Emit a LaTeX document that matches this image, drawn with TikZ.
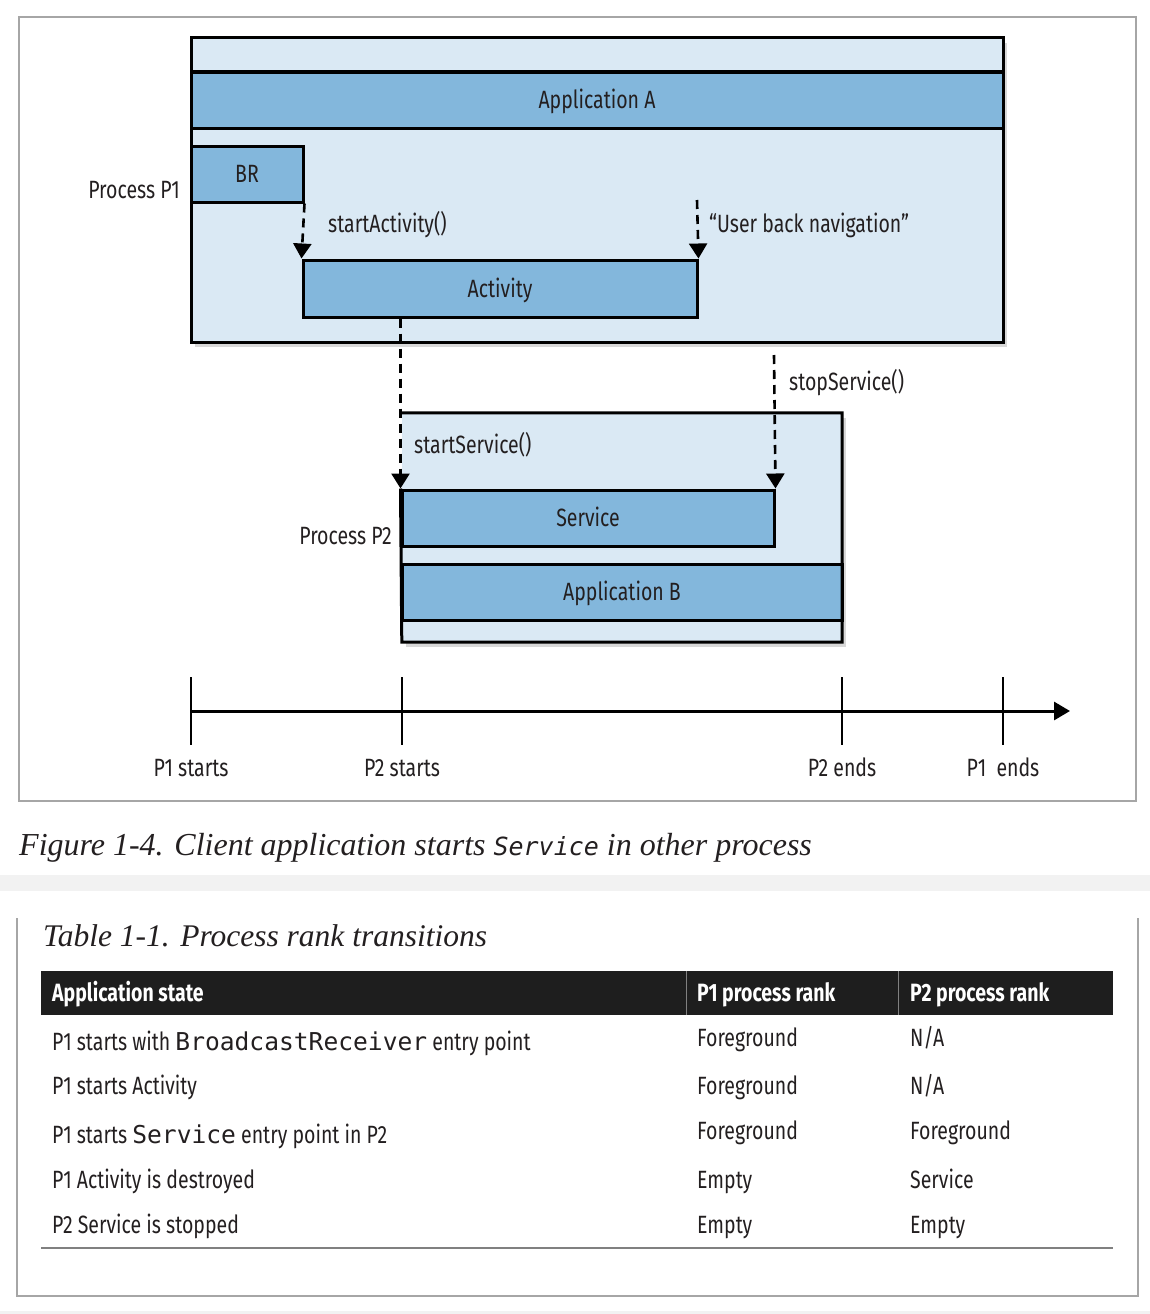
\documentclass[tikz,border=0pt]{standalone}
\usepackage{fontspec}
\setmainfont[FakeStretch=0.78]{Fira Sans}
\newfontfamily\capfont{Liberation Serif}
\newfontfamily\codefont{DejaVu Sans Mono}
\usetikzlibrary{arrows.meta,shadows}
\definecolor{ink}{HTML}{231F20}
\definecolor{lightblue}{HTML}{DAE9F4}
\definecolor{midblue}{HTML}{83B7DC}
\definecolor{framegray}{HTML}{A6A6A6}
\definecolor{bandgray}{HTML}{F2F2F2}
\definecolor{hdr}{HTML}{1E1E1E}
\newcommand\mycode[1]{{\codefont\fontsize{24.6}{28}\selectfont #1}}
\newcommand\capcode[1]{{\codefont\fontsize{25}{28}\selectfont #1}}
\begin{document}
\begin{tikzpicture}[x=1pt,y=-1pt,
  txt/.style={font=\fontsize{25}{30}\selectfont, text=ink, inner sep=0pt},
  captxt/.style={font=\capfont\itshape\fontsize{32}{36}\selectfont, text=ink, inner sep=0pt},
  pbox/.style={fill=lightblue, inner sep=0pt, drop shadow={shadow xshift=4pt, shadow yshift=-5pt, opacity=0.3}},
  boxline/.style={draw=black, line width=3pt, line join=miter},
  band/.style={fill=midblue, draw=black, line width=3pt, inner sep=0pt, txt, text height=17.5pt, text depth=0pt},
  dline/.style={line width=2.6pt, dash pattern=on 9pt off 6pt},
  arr/.style={dline, -{Triangle[width=18pt,length=15pt]}},
  tick/.style={line width=2pt, draw=black},
  hdrtxt/.style={txt, text=white, font=\bfseries\fontsize{25}{30}\selectfont, anchor=base west},
  celltxt/.style={txt, anchor=base west},
]
\useasboundingbox[fill=white] (0,0) rectangle (1150,1314);

% figure frame
\draw[framegray, line width=1.5pt] (19,17) rectangle (1136,801);

% Process P1
\node[pbox, draw=black, line width=3pt, minimum width=812pt, minimum height=304pt] (p1) at (597,190) {};
\node[band, minimum width=812pt, minimum height=56pt] (appa) at (597,100) {Application A};
\node[band, minimum width=112pt, minimum height=56pt] (br) at (247,174) {BR};
\node[band, minimum width=394pt, minimum height=57pt] (act) at (500,288.5) {Activity};
\node[txt, anchor=base east] (p1lab) at (180,198) {Process P1};

% Process P2
\node[pbox, minimum width=440pt, minimum height=229pt] (p2) at (622,527.5) {};
\node[band, minimum width=372pt, minimum height=56pt] (serv) at (588,518) {Service};
\node[band, minimum width=440pt, minimum height=56pt] (appb) at (622,592) {Application B};
\draw[boxline] (serv.north west) -- (p2.south west) -- (p2.south east) -- (p2.north east) -- (p2.north west);
\node[txt, anchor=base east] (p2lab) at (392,544) {Process P2};

% arrows
\coordinate (ubn) at (697,200);
\coordinate (sts) at (774,355);
\draw[arr] (br.south east) -- (act.north west);
\draw[arr] (ubn) -- (act.north east);
\draw[arr] (serv.north west |- act.south) -- (serv.north west);
\draw[arr] (sts) -- (serv.north east);
\node[txt, anchor=base west] (lsa) at (328,232) {startActivity()};
\node[txt, anchor=base west] (lubn) at (709,232) {“User back navigation”};
\node[txt, anchor=base west] (lsts) at (789,390) {stopService()};
\node[txt, anchor=base west] (lss) at (414,453) {startService()};

% timeline
\coordinate (t1) at (191,711);
\coordinate (tend) at (1070,711);
\draw[line width=3pt, -{Triangle[width=18pt,length=16pt]}] (t1) -- (tend);
\foreach \x in {191,402,842,1003} {\draw[tick] (\x,677) -- (\x,745);}
\node[txt, anchor=base] (ts1) at (191,776) {P1 starts};
\node[txt, anchor=base] (ts2) at (402,776) {P2 starts};
\node[txt, anchor=base] (te2) at (842,776) {P2 ends};
\node[txt, anchor=base] (te1) at (1003,776) {P1\ \ ends};

% caption
\node[captxt, anchor=base west] (fcap) at (19,855) {Figure 1-4. Client application starts \capcode{Service} in other process};

% gray bands
\fill[bandgray] (0,875) rectangle (1150,891);
\fill[bandgray] (0,1311) rectangle (1150,1314);

% table frame
\draw[framegray, line width=1.5pt] (17,918) -- (17,1296) -- (1138,1296) -- (1138,918);
\node[captxt, anchor=base west, font=\capfont\itshape\fontsize{31.5}{36}\selectfont] (tcap) at (43,946) {Table 1-1. Process rank transitions};

% header
\node[fill=hdr, inner sep=0pt, minimum width=1072pt, minimum height=44pt] (hdr) at (577,993) {};
\draw[gray, line width=1pt] (686,971) -- (686,1015);
\draw[gray, line width=1pt] (898,971) -- (898,1015);
\node[hdrtxt] (h1) at (52,1001) {Application state};
\node[hdrtxt] (h2) at (697,1001) {P1 process rank};
\node[hdrtxt] (h3) at (910,1001) {P2 process rank};

% rows
\node[celltxt] (r1a) at (52,1050) {P1 starts with \mycode{BroadcastReceiver} entry point};
\node[celltxt] (r1b) at (697,1046) {Foreground};
\node[celltxt] (r1c) at (910,1046) {N/A};
\node[celltxt] (r2a) at (52,1094) {P1 starts Activity};
\node[celltxt] (r2b) at (697,1094) {Foreground};
\node[celltxt] (r2c) at (910,1094) {N/A};
\node[celltxt] (r3a) at (52,1143) {P1 starts \mycode{Service} entry point in P2};
\node[celltxt] (r3b) at (697,1139) {Foreground};
\node[celltxt] (r3c) at (910,1139) {Foreground};
\node[celltxt] (r4a) at (52,1188) {P1 Activity is destroyed};
\node[celltxt] (r4b) at (697,1188) {Empty};
\node[celltxt] (r4c) at (910,1188) {Service};
\node[celltxt] (r5a) at (52,1233) {P2 Service is stopped};
\node[celltxt] (r5b) at (697,1233) {Empty};
\node[celltxt] (r5c) at (910,1233) {Empty};
\draw[gray, line width=1.5pt] (41,1248) -- (1113,1248);
\end{tikzpicture}
\end{document}
